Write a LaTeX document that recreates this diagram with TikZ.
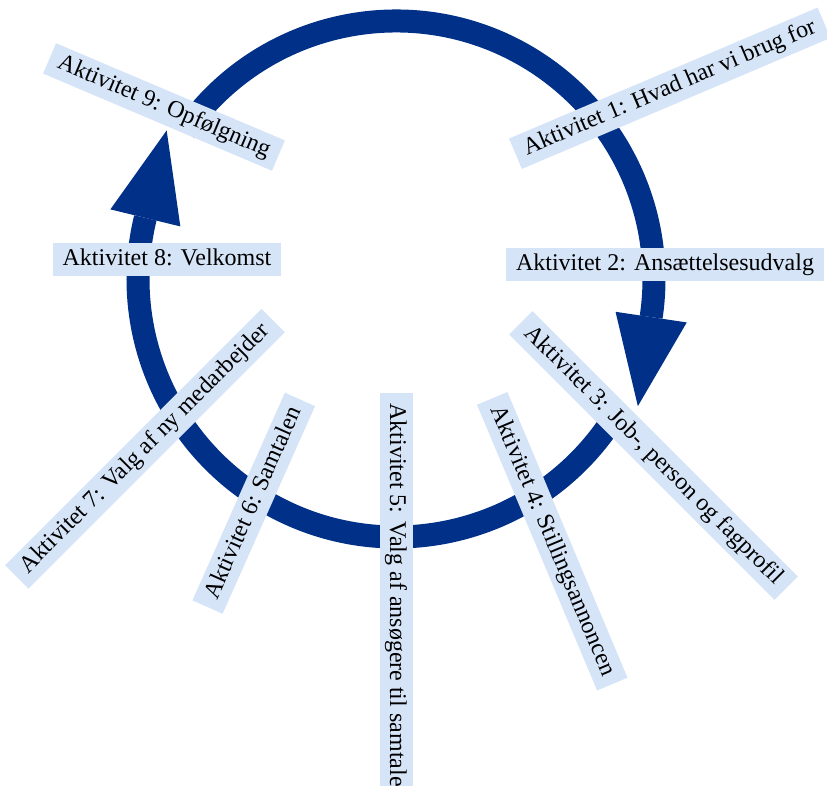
\documentclass[tikz,border=0pt]{standalone}
\usepackage{fontspec}
\setmainfont{Liberation Serif}
\usetikzlibrary{calc}

\definecolor{ringblue}{RGB}{0,48,135}
\definecolor{boxblue}{RGB}{214,228,248}

\begin{document}
\begin{tikzpicture}[x=1pt,y=1pt,
	akt/.style={fill=boxblue,inner xsep=10pt,inner ysep=4.5pt,text height=18pt,text depth=6pt,font=\fontsize{24}{29}\selectfont},
	ring/.style={draw=ringblue,line width=23pt},
	ringtip/.style={fill=ringblue}]

	\useasboundingbox (0,0) rectangle (827,786);
	\coordinate (c) at (396,507);

	\draw[ring] ($(c)+(145:258)$) arc[start angle=145,end angle=-8.5,radius=258] coordinate (e_1);
	\draw[ring] ($(c)+(-31:258)$) arc[start angle=-31,end angle=-193.7,radius=258] coordinate (e_2);
	\fill[ringtip] (e_1) ++(-8.5:36) -- ++(171.5:72) -- ($(e_1)+(-98.5:90)$) -- cycle;
	\fill[ringtip] (e_2) ++(166.3:36) -- ++(-13.7:72) -- ($(e_2)+(76.3:90)$) -- cycle;

	\node[akt,rotate=23]    (akt_1) at (669.75,697.75) {Aktivitet 1: Hvad har vi brug for};
	\node[akt]              (akt_2) at (665,521)       {Aktivitet 2: Ansættelsesudvalg};
	\node[akt,rotate=-45]   (akt_3) at (653.5,330.5)   {Aktivitet 3: Job-, person og fagprofil};
	\node[akt,rotate=-67.2] (akt_4) at (552.25,244.75) {Aktivitet 4: Stillingsannoncen};
	\node[akt,rotate=-90]   (akt_5) at (396,191)       {Aktivitet 5: Valg af ansøgere til samtale};
	\node[akt,rotate=66]    (akt_6) at (253.75,282.75) {Aktivitet 6: Samtalen};
	\node[akt,rotate=45]    (akt_7) at (145,337.25)    {Aktivitet 7: Valg af ny medarbejder};
	\node[akt]              (akt_8) at (167,526)       {Aktivitet 8: Velkomst};
	\node[akt,rotate=-23]   (akt_9) at (164,679)       {Aktivitet 9: Opfølgning};
\end{tikzpicture}
\end{document}
